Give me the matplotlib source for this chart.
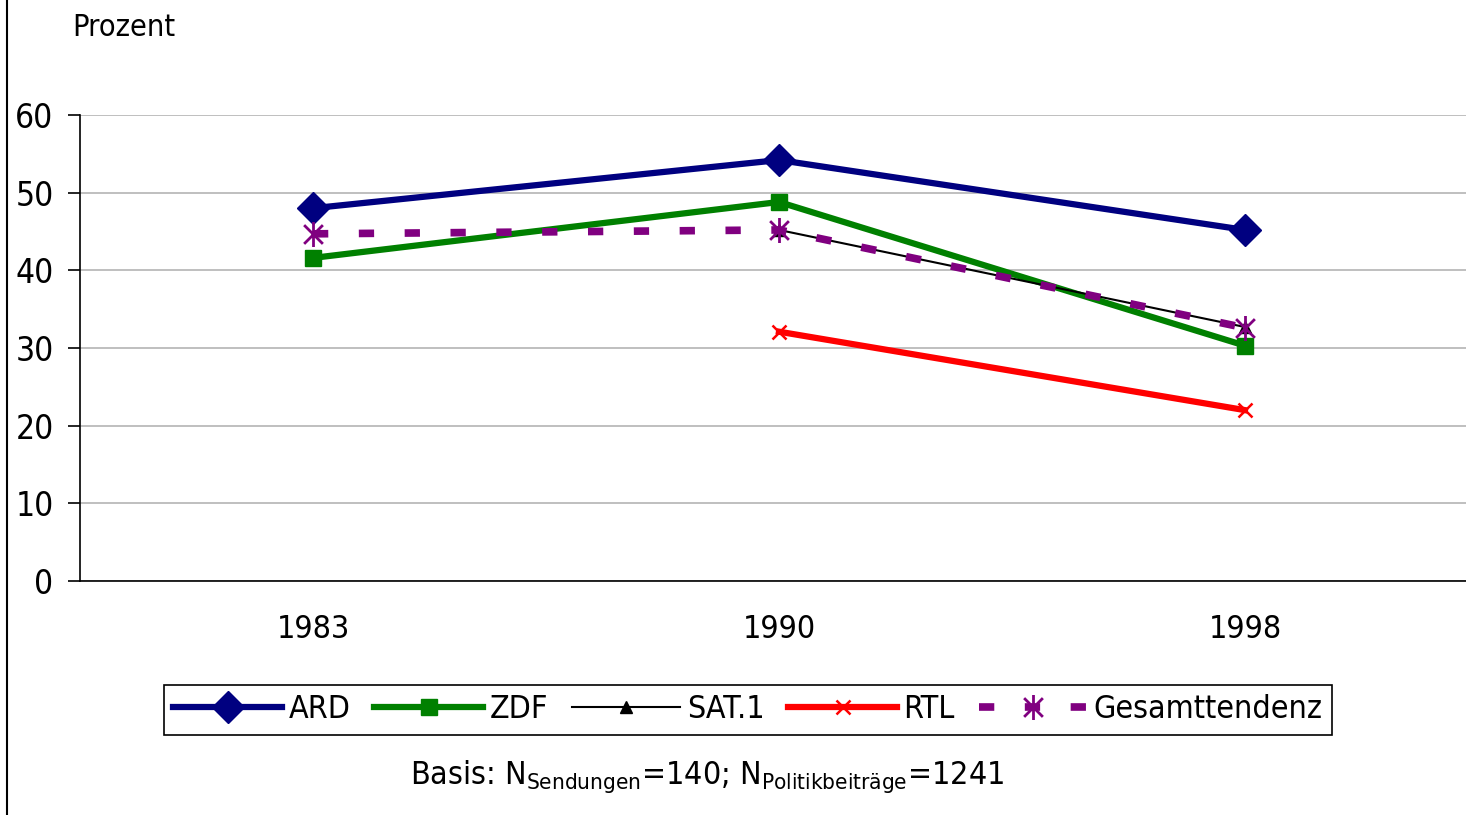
import matplotlib
matplotlib.use("Agg")
import matplotlib.pyplot as plt
from matplotlib.path import Path
from matplotlib.lines import Line2D
import numpy as np

years = ["1983", "1990", "1998"]
ard = [48.0, 54.2, 45.2]
zdf = [41.6, 48.8, 30.3]
sat1 = [np.nan, 45.2, 32.7]
rtl = [np.nan, 32.1, 22.0]
gesamt = [44.7, 45.2, 32.6]
yticks = [0, 10, 20, 30, 40, 50, 60]

plt.rcParams['font.family'] = ['DejaVu Sans']
plt.rcParams['font.stretch'] = 'condensed'

W, H = 1466, 815
fig = plt.figure(figsize=(W/100, H/100), dpi=100)
ax = fig.add_axes([80/W, 1-581/H, 1398/W, 466/H])

x = np.arange(len(years))

ast = Path([(0, -1), (0, 1), (-0.75, -0.75), (0.75, 0.75), (-0.75, 0.75), (0.75, -0.75)],
           [Path.MOVETO, Path.LINETO, Path.MOVETO, Path.LINETO, Path.MOVETO, Path.LINETO])

ax.plot(x, ard, color='#000080', lw=4.5, marker='D', ms=16, label='ARD', zorder=5)
ax.plot(x, zdf, color='#008000', lw=4.5, marker='s', ms=11, label='ZDF', zorder=4)
ax.plot(x, sat1, color='black', lw=1.5, marker='^', ms=8, label='SAT.1', zorder=6)
ax.plot(x, rtl, color='#FF0000', lw=4.5, marker='x', ms=10, mew=1.8, label='RTL', zorder=4)
ax.plot(x, gesamt, color='#800080', lw=5.5, dashes=(2.0, 4.0), dash_capstyle='butt',
        marker=ast, ms=18, mew=2, mec='#800080', label='Gesamttendenz', zorder=7)

ax.set_xlim(-0.5, 2.5)
ax.set_ylim(0, 60)
ax.set_yticks(yticks)
ax.set_xticks(x)
ax.set_xticklabels(years)
ax.tick_params(axis='y', length=9, width=1.2, labelsize=24, pad=10, color='black')
ax.tick_params(axis='x', length=0, labelsize=23, pad=24)
ax.grid(axis='y', color='#b4b4b4', lw=1.2)
ax.set_axisbelow(True)
for s in ['top', 'right']:
    ax.spines[s].set_visible(False)
ax.spines['left'].set_linewidth(1.2)
ax.spines['bottom'].set_linewidth(1.2)

fig.text(72/W, 1-27/H, 'Prozent', fontsize=22, va='center', ha='left')

leg = fig.legend(loc='center', bbox_to_anchor=(748/W, 1-710/H), ncol=5, fontsize=23,
                 frameon=True, fancybox=False, edgecolor='black', framealpha=1,
                 handlelength=3.4, handletextpad=0.2, columnspacing=0.75,
                 borderpad=0.3, borderaxespad=0)
leg.get_frame().set_linewidth(1.2)

fig.text(707/W, 1-777/H,
         r'Basis: N$_{\mathregular{Sendungen}}$=140; N$_{\mathregular{Politikbeiträge}}$=1241',
         fontsize=23, ha='center', va='center')

fig.add_artist(Line2D([7/W, 7/W], [0, 1], color='black', lw=1.5, transform=fig.transFigure))

fig.savefig('out.png', dpi=100)
